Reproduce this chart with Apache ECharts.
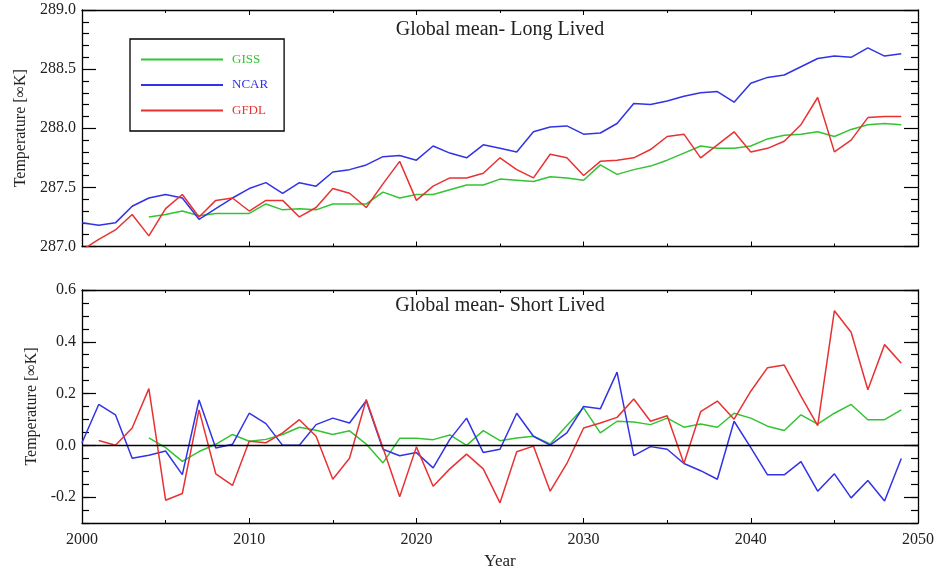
<!DOCTYPE html>
<html><head><meta charset="utf-8">
<script src="https://cdn.jsdelivr.net/npm/echarts@6/dist/echarts.min.js"></script>
<style>html,body{margin:0;padding:0;background:#fff}#c{width:940px;height:571px}</style>
</head><body><div id="c"></div>
<script>
const years = [2000,2001,2002,2003,2004,2005,2006,2007,2008,2009,
  2010,2011,2012,2013,2014,2015,2016,2017,2018,2019,
  2020,2021,2022,2023,2024,2025,2026,2027,2028,2029,
  2030,2031,2032,2033,2034,2035,2036,2037,2038,2039,
  2040,2041,2042,2043,2044,2045,2046,2047,2048,2049];

const longGISS = [null,null,null,null,287.25,287.27,287.30,287.26,287.28,287.28,
  287.28,287.36,287.31,287.32,287.31,287.36,287.36,287.36,287.46,287.41,
  287.44,287.44,287.48,287.52,287.52,287.57,287.56,287.55,287.59,287.58,
  287.56,287.69,287.61,287.65,287.68,287.73,287.79,287.85,287.83,287.83,
  287.85,287.91,287.94,287.95,287.97,287.93,287.99,288.03,288.04,288.03];
const longNCAR = [287.20,287.18,287.20,287.34,287.41,287.44,287.41,287.23,287.32,287.41,
  287.49,287.54,287.45,287.54,287.51,287.63,287.65,287.69,287.76,287.77,
  287.73,287.85,287.79,287.75,287.86,287.83,287.80,287.97,288.01,288.02,
  287.95,287.96,288.04,288.21,288.20,288.23,288.27,288.30,288.31,288.22,
  288.38,288.43,288.45,288.52,288.59,288.61,288.60,288.68,288.61,288.63];
const longGFDL = [286.97,287.06,287.14,287.27,287.09,287.32,287.44,287.25,287.39,287.41,
  287.30,287.39,287.39,287.25,287.33,287.49,287.45,287.33,287.53,287.72,
  287.39,287.51,287.58,287.58,287.62,287.75,287.65,287.58,287.78,287.75,
  287.60,287.72,287.73,287.75,287.82,287.93,287.95,287.75,287.86,287.97,
  287.80,287.83,287.89,288.03,288.26,287.80,287.90,288.09,288.10,288.10];

const shortGISS = [null,null,null,null,0.029,-0.009,-0.062,-0.024,0.004,0.042,
  0.016,0.023,0.042,0.070,0.058,0.042,0.056,0.005,-0.068,0.027,
  0.027,0.022,0.040,0.000,0.057,0.018,0.028,0.035,0.005,0.077,
  0.145,0.048,0.093,0.090,0.080,0.105,0.070,0.082,0.070,0.124,
  0.105,0.074,0.057,0.118,0.082,0.124,0.158,0.099,0.099,0.137];
const shortNCAR = [0.010,0.158,0.118,-0.050,-0.038,-0.022,-0.113,0.175,-0.010,0.004,
  0.124,0.084,0.000,0.000,0.080,0.105,0.086,0.172,-0.015,-0.040,
  -0.028,-0.087,0.023,0.105,-0.028,-0.015,0.124,0.035,0.001,0.048,
  0.150,0.141,0.283,-0.040,-0.005,-0.015,-0.070,-0.098,-0.131,0.093,
  -0.009,-0.114,-0.114,-0.063,-0.177,-0.110,-0.203,-0.136,-0.215,-0.051];
const shortGFDL = [null,0.019,0.000,0.067,0.219,-0.212,-0.186,0.137,-0.110,-0.155,
  0.016,0.010,0.048,0.099,0.035,-0.131,-0.050,0.177,-0.009,-0.199,
  -0.006,-0.158,-0.091,-0.034,-0.091,-0.222,-0.025,-0.003,-0.177,-0.070,
  0.067,0.086,0.108,0.179,0.093,0.114,-0.070,0.130,0.171,0.101,
  0.209,0.300,0.310,0.190,0.076,0.520,0.437,0.215,0.389,0.317];

const longTicks = [287.0, 287.5, 288.0, 288.5, 289.0];
const shortTicks = [-0.2, 0.0, 0.2, 0.4, 0.6];
const xLabels = [2000, 2010, 2020, 2030, 2040, 2050];

const panelTitles = ['Global mean- Long Lived', 'Global mean- Short Lived'];
const yName = 'Temperature [\u221EK]';
const xName = 'Year';

const C = {GISS: '#33c333', NCAR: '#3232e6', GFDL: '#e83232'};
const FONT = "'Liberation Serif','DejaVu Serif',serif";
const chart = echarts.init(document.getElementById('c'), null, {renderer: 'canvas'});

const pair = arr => years.map((y, i) => [y, arr[i]]);
const axisLine = {show: true, onZero: false, lineStyle: {color: '#000', width: 1.3}};

function xAx(grid, pos, labels) {
  return {
    type: 'value', gridIndex: grid, position: pos, min: 2000, max: 2050, interval: 10,
    axisLine: axisLine, splitLine: {show: false},
    axisTick: {show: true, inside: true, length: 5, lineStyle: {color: '#000', width: 1}},
    minorTick: {show: true, splitNumber: 2, length: 3, lineStyle: {color: '#000', width: 1}},
    axisLabel: {show: labels, customValues: xLabels, formatter: v => String(Math.round(v)), color: '#222', fontFamily: FONT, fontSize: 16, margin: 9},
    name: labels ? xName : '', nameLocation: 'middle', nameGap: 30,
    nameTextStyle: {color: '#222', fontFamily: FONT, fontSize: 17}
  };
}

const xAxis = [xAx(0, 'bottom', false), xAx(0, 'top', false), xAx(1, 'bottom', true), xAx(1, 'top', false)];

const yAxis = [
  {type: 'value', gridIndex: 0, position: 'left', min: 287, max: 289, interval: 0.5,
   axisLine: axisLine, splitLine: {show: false},
   axisTick: {inside: true, length: 14, lineStyle: {color: '#000', width: 1.2}},
   minorTick: {show: true, splitNumber: 5, length: 7, lineStyle: {color: '#000', width: 1.2}},
   axisLabel: {customValues: longTicks, formatter: v => v.toFixed(1), color: '#222', fontFamily: FONT, fontSize: 16, margin: 6},
   name: yName, nameLocation: 'middle', nameGap: 53,
   nameTextStyle: {color: '#222', fontFamily: FONT, fontSize: 16}},
  {type: 'value', gridIndex: 0, position: 'right', min: 287, max: 289, interval: 0.5,
   axisLine: axisLine, splitLine: {show: false},
   axisTick: {inside: true, length: 14, lineStyle: {color: '#000', width: 1.2}},
   minorTick: {show: true, splitNumber: 5, length: 7, lineStyle: {color: '#000', width: 1.2}},
   axisLabel: {show: false}},
  {type: 'value', gridIndex: 1, position: 'left', min: -0.3, max: 0.6, interval: 0.05,
   axisLine: axisLine, splitLine: {show: false},
   axisTick: {inside: true, length: 7, lineStyle: {color: '#000', width: 1.2}},
   axisLabel: {customValues: shortTicks, formatter: v => v.toFixed(1), color: '#222', fontFamily: FONT, fontSize: 16, margin: 6},
   name: yName, nameLocation: 'middle', nameGap: 40,
   nameTextStyle: {color: '#222', fontFamily: FONT, fontSize: 16}},
  {type: 'value', gridIndex: 1, position: 'left', min: -0.3, max: 0.6,
   axisLine: {show: false}, splitLine: {show: false},
   axisTick: {inside: true, length: 14, customValues: shortTicks, lineStyle: {color: '#000', width: 1.2}},
   axisLabel: {show: false}},
  {type: 'value', gridIndex: 1, position: 'right', min: -0.3, max: 0.6, interval: 0.05,
   axisLine: axisLine, splitLine: {show: false},
   axisTick: {inside: true, length: 7, lineStyle: {color: '#000', width: 1.2}},
   axisLabel: {show: false}},
  {type: 'value', gridIndex: 1, position: 'right', min: -0.3, max: 0.6,
   axisLine: {show: false}, splitLine: {show: false},
   axisTick: {inside: true, length: 14, customValues: shortTicks, lineStyle: {color: '#000', width: 1.2}},
   axisLabel: {show: false}}
];

function line(name, data, xi, yi, extra) {
  return Object.assign({
    type: 'line', name: name, data: pair(data), xAxisIndex: xi, yAxisIndex: yi,
    symbol: 'none', clip: true, animation: false,
    lineStyle: {color: C[name], width: 1.5}, itemStyle: {color: C[name]}
  }, extra || {});
}

const series = [
  line('GISS', longGISS, 0, 0), line('NCAR', longNCAR, 0, 0), line('GFDL', longGFDL, 0, 0),
  line('GISS', shortGISS, 2, 2, {markLine: {silent: true, symbol: 'none', label: {show: false},
    lineStyle: {color: '#000', width: 1.3, type: 'solid'}, data: [{yAxis: 0}], animation: false}}),
  line('NCAR', shortNCAR, 2, 2), line('GFDL', shortGFDL, 2, 2)
];

chart.setOption({
  backgroundColor: '#fff',
  animation: false,
  grid: [
    {left: 82, right: 22, top: 10, height: 236.5},
    {left: 82, right: 22, top: 290, height: 237}
  ],
  xAxis: xAxis,
  yAxis: yAxis,
  legend: {
    orient: 'vertical', left: 130, top: 39,
    padding: [14, 16, 14, 10], itemWidth: 82, itemHeight: 14, itemGap: 12.5,
    borderColor: '#000', borderWidth: 1.3,
    itemStyle: {opacity: 0},
    data: [
      {name: 'GISS', textStyle: {color: C.GISS}},
      {name: 'NCAR', textStyle: {color: C.NCAR}},
      {name: 'GFDL', textStyle: {color: C.GFDL}}
    ],
    textStyle: {fontFamily: FONT, fontSize: 13, padding: [0, 0, 0, 4]}
  },
  graphic: [
    {type: 'text', x: 500, y: 30, style: {text: panelTitles[0], fill: '#222', font: "20px 'Liberation Serif', serif", align: 'center', verticalAlign: 'middle'}},
    {type: 'text', x: 500, y: 306, style: {text: panelTitles[1], fill: '#222', font: "20px 'Liberation Serif', serif", align: 'center', verticalAlign: 'middle'}}
  ],
  series: series
});
</script>
</body></html>
